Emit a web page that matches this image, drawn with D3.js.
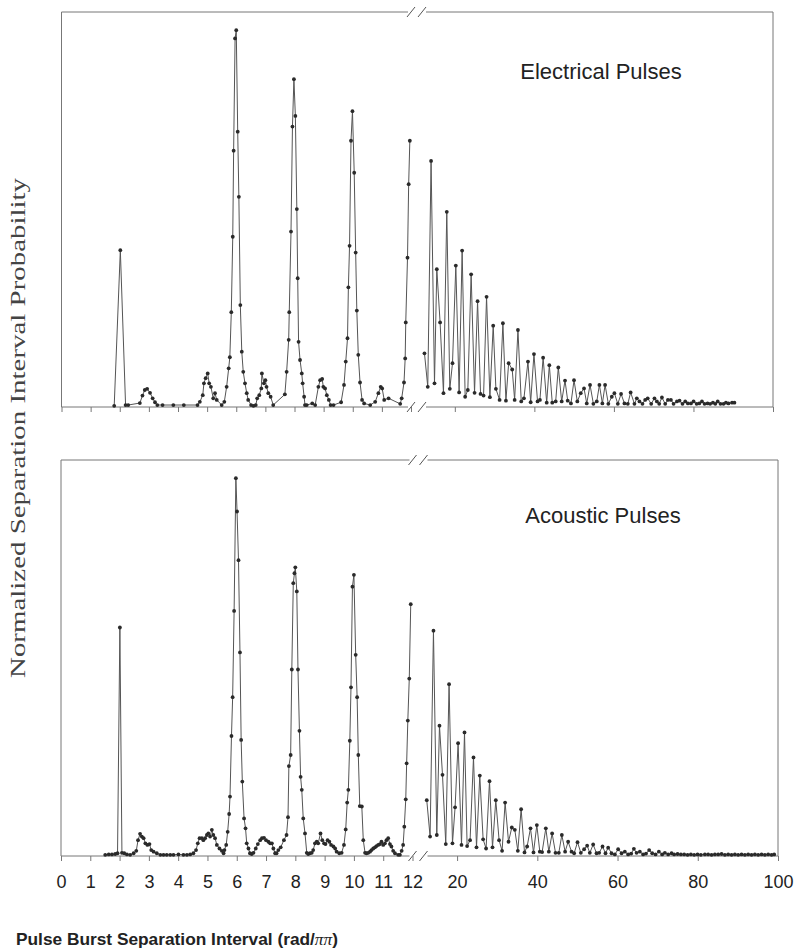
<!DOCTYPE html>
<html><head><meta charset="utf-8">
<script src="https://cdn.jsdelivr.net/npm/d3@7"></script>
<style>body{margin:0;background:#fff}svg{display:block}</style>
</head><body>
<script>
// ---------- DATA ----------
const panelTitles = ["Electrical Pulses", "Acoustic Pulses"];
const leftTicks = [0,1,2,3,4,5,6,7,8,9,10,11,12];
const rightTicks = [20,40,60,80,100];
const leftDomain = [0,12];
const rightDomain = [12,100];
const yDomain = [0,1];

const elecLeft = [[1.81,0.003],[2.02,0.397],[2.20,0.005],[2.29,0.005],[2.69,0.01],[2.78,0.029],[2.86,0.043],[2.94,0.046],[3.04,0.036],[3.13,0.022],[3.21,0.012],[3.29,0.005],[3.47,0.005],[3.84,0.005],[4.20,0.005],[4.67,0.005],[4.75,0.013],[4.85,0.03],[4.89,0.06],[4.95,0.073],[5.02,0.085],[5.07,0.06],[5.13,0.051],[5.21,0.022],[5.27,0.035],[5.33,0.018],[5.50,0.005],[5.59,0.013],[5.67,0.051],[5.74,0.098],[5.78,0.126],[5.83,0.24],[5.88,0.431],[5.91,0.649],[5.96,0.933],[6.00,0.954],[6.05,0.697],[6.09,0.532],[6.14,0.258],[6.19,0.14],[6.24,0.089],[6.30,0.06],[6.36,0.035],[6.41,0.018],[6.51,0.005],[6.59,0.003],[6.67,0.005],[6.72,0.022],[6.79,0.03],[6.86,0.047],[6.88,0.085],[6.95,0.06],[7.00,0.068],[7.04,0.051],[7.10,0.035],[7.18,0.026],[7.27,0.005],[7.67,0.032],[7.73,0.089],[7.80,0.17],[7.82,0.24],[7.88,0.444],[7.93,0.71],[7.98,0.83],[8.03,0.737],[8.08,0.501],[8.11,0.326],[8.14,0.165],[8.19,0.119],[8.25,0.085],[8.28,0.06],[8.33,0.026],[8.36,0.005],[8.42,0.005],[8.61,0.009],[8.71,0.005],[8.82,0.051],[8.88,0.068],[8.95,0.071],[8.99,0.051],[9.05,0.047],[9.11,0.03],[9.18,0.018],[9.24,0.005],[9.34,0.005],[9.60,0.012],[9.70,0.056],[9.76,0.115],[9.82,0.174],[9.85,0.303],[9.89,0.408],[9.94,0.674],[9.99,0.749],[10.05,0.593],[10.10,0.391],[10.14,0.244],[10.19,0.132],[10.25,0.062],[10.32,0.018],[10.39,0.009],[10.60,0.005],[10.77,0.013],[10.88,0.035],[10.96,0.051],[11.01,0.047],[11.08,0.018],[11.23,0.022],[11.63,0.008],[11.68,0.022],[11.76,0.062],[11.80,0.123],[11.82,0.214],[11.88,0.378],[11.92,0.564],[11.96,0.674]];

const elecRight = [[12.37,0.136],[13.2,0.051],[14.03,0.623],[14.89,0.06],[15.47,0.349],[16.3,0.214],[17.15,0.035],[17.98,0.494],[18.74,0.046],[19.42,0.111],[20.25,0.358],[21.08,0.037],[21.84,0.396],[22.6,0.026],[23.27,0.043],[24.1,0.336],[24.96,0.036],[25.72,0.268],[26.47,0.033],[27.23,0.029],[27.98,0.279],[28.82,0.025],[29.65,0.206],[30.33,0.046],[31.26,0.018],[32.09,0.212],[32.85,0.016],[33.53,0.111],[34.43,0.095],[35.04,0.018],[35.87,0.195],[36.7,0.014],[37.38,0.022],[38.39,0.115],[39.07,0.012],[39.9,0.134],[40.8,0.014],[41.4,0.018],[42.2,0.125],[43.1,0.011],[43.76,0.106],[44.5,0.011],[45.36,0.014],[46.02,0.1],[46.87,0.014],[47.71,0.067],[48.38,0.016],[49.2,0.009],[49.97,0.068],[50.8,0.014],[51.66,0.035],[52.49,0.047],[53.17,0.009],[54.0,0.056],[54.84,0.008],[55.69,0.014],[56.35,0.056],[57.1,0.009],[57.78,0.056],[58.6,0.008],[59.47,0.026],[60.12,0.035],[60.98,0.008],[61.8,0.033],[62.65,0.009],[63.5,0.008],[64.2,0.037],[65.16,0.008],[65.76,0.022],[66.42,0.014],[67.18,0.008],[67.86,0.018],[68.5,0.022],[69.37,0.008],[70.2,0.022],[70.8,0.014],[71.39,0.008],[72.07,0.024],[72.9,0.008],[73.58,0.018],[74.33,0.018],[75.0,0.008],[75.84,0.014],[76.5,0.016],[77.25,0.008],[77.93,0.014],[78.6,0.009],[79.37,0.009],[80.03,0.014],[80.8,0.008],[81.46,0.009],[82.14,0.014],[82.8,0.008],[83.55,0.009],[84.2,0.008],[84.9,0.011],[85.5,0.008],[86.1,0.014],[86.8,0.008],[87.55,0.008],[88.16,0.011],[88.8,0.009],[89.7,0.011],[90.3,0.011]];

const acouLeft = [[1.51,0.003],[1.63,0.004],[1.74,0.004],[1.85,0.005],[1.93,0.007],[2.01,0.577],[2.08,0.008],[2.16,0.007],[2.25,0.004],[2.36,0.003],[2.48,0.007],[2.57,0.013],[2.63,0.040],[2.70,0.056],[2.76,0.049],[2.82,0.045],[2.88,0.032],[2.95,0.028],[3.02,0.030],[3.08,0.015],[3.16,0.011],[3.27,0.007],[3.39,0.003],[3.50,0.003],[3.61,0.003],[3.73,0.003],[3.84,0.003],[4.01,0.004],[4.18,0.003],[4.30,0.003],[4.41,0.004],[4.52,0.007],[4.61,0.015],[4.67,0.032],[4.73,0.045],[4.81,0.045],[4.86,0.040],[4.92,0.045],[4.98,0.053],[5.03,0.057],[5.09,0.049],[5.15,0.066],[5.20,0.053],[5.26,0.045],[5.32,0.028],[5.41,0.019],[5.49,0.013],[5.55,0.007],[5.58,0.015],[5.64,0.028],[5.69,0.061],[5.74,0.106],[5.77,0.150],[5.82,0.303],[5.86,0.401],[5.91,0.619],[5.97,0.954],[6.01,0.870],[6.06,0.747],[6.11,0.514],[6.15,0.293],[6.19,0.188],[6.25,0.095],[6.30,0.070],[6.34,0.032],[6.40,0.019],[6.45,0.007],[6.51,0.005],[6.57,0.008],[6.65,0.019],[6.72,0.030],[6.80,0.040],[6.86,0.045],[6.93,0.046],[7.00,0.040],[7.08,0.036],[7.14,0.032],[7.20,0.032],[7.25,0.019],[7.31,0.007],[7.36,0.007],[7.42,0.015],[7.50,0.022],[7.61,0.040],[7.70,0.053],[7.75,0.098],[7.78,0.227],[7.84,0.255],[7.88,0.471],[7.93,0.689],[7.97,0.714],[8.00,0.729],[8.05,0.668],[8.09,0.471],[8.14,0.316],[8.18,0.200],[8.22,0.167],[8.27,0.095],[8.33,0.057],[8.39,0.008],[8.44,0.005],[8.50,0.007],[8.56,0.008],[8.61,0.015],[8.67,0.032],[8.73,0.036],[8.78,0.032],[8.86,0.057],[8.92,0.040],[8.98,0.032],[9.03,0.030],[9.10,0.040],[9.16,0.036],[9.22,0.028],[9.30,0.024],[9.36,0.019],[9.41,0.011],[9.50,0.007],[9.58,0.008],[9.66,0.028],[9.72,0.067],[9.77,0.135],[9.81,0.167],[9.86,0.291],[9.90,0.426],[9.95,0.680],[10.00,0.710],[10.06,0.508],[10.11,0.401],[10.15,0.255],[10.20,0.126],[10.27,0.125],[10.32,0.040],[10.38,0.008],[10.43,0.007],[10.49,0.008],[10.55,0.011],[10.60,0.015],[10.66,0.019],[10.72,0.022],[10.77,0.025],[10.83,0.028],[10.89,0.030],[10.94,0.036],[11.00,0.028],[11.06,0.032],[11.11,0.040],[11.17,0.045],[11.23,0.030],[11.28,0.024],[11.34,0.013],[11.40,0.007],[11.51,0.003],[11.57,0.003],[11.63,0.013],[11.68,0.028],[11.72,0.074],[11.77,0.143],[11.80,0.234],[11.84,0.342],[11.89,0.448],[11.94,0.636]];

const acouRight = [[12.44,0.141],[13.27,0.049],[14.11,0.569],[14.94,0.053],[15.61,0.329],[16.36,0.205],[17.18,0.030],[18.0,0.434],[18.85,0.032],[19.5,0.123],[20.25,0.285],[21.1,0.028],[21.85,0.312],[22.5,0.025],[23.24,0.040],[24.09,0.249],[24.84,0.022],[25.66,0.203],[26.49,0.042],[27.23,0.019],[28.08,0.189],[28.83,0.022],[29.65,0.141],[30.47,0.040],[31.22,0.013],[31.97,0.135],[32.82,0.036],[33.64,0.072],[34.39,0.066],[35.14,0.013],[35.96,0.118],[36.81,0.009],[37.46,0.024],[38.3,0.07],[39.05,0.009],[39.88,0.078],[40.62,0.011],[41.2,0.01],[42.12,0.070],[42.87,0.011],[43.69,0.057],[44.54,0.008],[45.36,0.008],[46.11,0.053],[46.93,0.011],[47.68,0.036],[48.53,0.011],[49.18,0.007],[50.02,0.035],[50.85,0.008],[51.67,0.017],[52.42,0.026],[53.09,0.008],[53.92,0.029],[54.76,0.007],[55.41,0.008],[56.26,0.024],[57.0,0.007],[57.66,0.021],[58.5,0.007],[59.33,0.004],[60.15,0.017],[61.0,0.007],[61.82,0.011],[62.64,0.004],[63.4,0.006],[64.07,0.018],[64.74,0.008],[65.56,0.011],[66.38,0.004],[67.1,0.006],[67.88,0.015],[68.63,0.007],[69.48,0.004],[70.3,0.011],[71.12,0.004],[71.8,0.008],[72.62,0.004],[73.47,0.007],[74.11,0.004],[74.96,0.005],[75.79,0.004],[76.61,0.004],[77.46,0.003],[78.28,0.004],[79.1,0.003],[79.95,0.004],[80.77,0.003],[81.77,0.004],[82.59,0.004],[83.44,0.003],[84.26,0.004],[85.09,0.004],[85.94,0.005],[86.76,0.003],[87.58,0.004],[88.43,0.003],[89.25,0.004],[90.07,0.003],[90.92,0.004],[91.74,0.003],[92.57,0.004],[93.41,0.003],[94.24,0.004],[95.06,0.003],[95.91,0.004],[96.73,0.003],[97.56,0.004],[98.4,0.003],[99.05,0.004]];

// ---------- LAYOUT ----------
const W = 795, H = 948;
const panels = [
  {title: panelTitles[0], left: elecLeft, right: elecRight, top: 12, bottom: 407,
   lRange: [61.5, 411], rRange: [423, 773], titleX: 601, titleY: 79, labels: false},
  {title: panelTitles[1], left: acouLeft, right: acouRight, top: 460, bottom: 856,
   lRange: [61, 412.5], rRange: [425, 778], titleX: 603, titleY: 523, labels: true}
];
const axisColor = "#777";
const lineColor = "#555";
const dotColor = "#2a2a2a";

const svg = d3.select("body").append("svg").attr("width", W).attr("height", H)
  .style("font-family", "'Liberation Sans', Arial, sans-serif");

panels.forEach(p => {
  const xL = d3.scaleLinear().domain(leftDomain).range(p.lRange);
  const xR = d3.scaleLinear().domain(rightDomain).range(p.rRange);
  const y = d3.scaleLinear().domain(yDomain).range([p.bottom, p.top]);
  const g = svg.append("g");
  const brk1 = p.lRange[1], brk2 = p.lRange[1] + 11;

  // frame pieces
  const segs = [
    [p.lRange[0], p.top, p.lRange[0], p.bottom],
    [p.rRange[1], p.top, p.rRange[1], p.bottom],
    [p.lRange[0], p.top, brk1 - 3, p.top],
    [brk2 + 4, p.top, p.rRange[1], p.top],
    [p.lRange[0], p.bottom, brk1 - 3, p.bottom],
    [brk2 + 4, p.bottom, p.rRange[1], p.bottom]
  ];
  g.selectAll("line.frame").data(segs).join("line").attr("class", "frame")
    .attr("x1", d => d[0]).attr("y1", d => d[1]).attr("x2", d => d[2]).attr("y2", d => d[3])
    .attr("stroke", axisColor).attr("stroke-width", 1);

  // break marks
  const slashes = [];
  [p.top, p.bottom].forEach(yy => [brk1, brk2].forEach(xx => slashes.push([xx, yy])));
  g.selectAll("line.brk").data(slashes).join("line").attr("class", "brk")
    .attr("x1", d => d[0] - 4).attr("y1", d => d[1] + 5)
    .attr("x2", d => d[0] + 4).attr("y2", d => d[1] - 5)
    .attr("stroke", "#555").attr("stroke-width", 1);

  // axes (ticks)
  const axL = d3.axisBottom(xL).tickValues(leftTicks).tickSize(5).tickSizeOuter(0).tickPadding(14);
  const axR = d3.axisBottom(xR).tickValues(rightTicks).tickSize(5).tickSizeOuter(0).tickPadding(14);
  if (!p.labels) { axL.tickFormat(""); axR.tickFormat(""); }
  [axL, axR].forEach(ax => {
    const a = g.append("g").attr("transform", `translate(0,${p.bottom})`).call(ax);
    a.select(".domain").remove();
    a.selectAll(".tick line").attr("stroke", axisColor);
    a.selectAll(".tick text").attr("fill", "#222").style("font-size", "18px")
      .style("font-family", "'Liberation Sans', Arial, sans-serif");
  });

  // data lines
  const lineL = d3.line().x(d => xL(d[0])).y(d => y(d[1]));
  const lineR = d3.line().x(d => xR(d[0])).y(d => y(d[1]));
  g.append("path").datum(p.left).attr("d", lineL).attr("fill", "none")
    .attr("stroke", lineColor).attr("stroke-width", 1);
  g.append("path").datum(p.right).attr("d", lineR).attr("fill", "none")
    .attr("stroke", lineColor).attr("stroke-width", 1);
  g.selectAll("circle.l").data(p.left).join("circle").attr("class", "l")
    .attr("cx", d => xL(d[0])).attr("cy", d => y(d[1])).attr("r", 1.9).attr("fill", dotColor);
  g.selectAll("circle.r").data(p.right).join("circle").attr("class", "r")
    .attr("cx", d => xR(d[0])).attr("cy", d => y(d[1])).attr("r", 1.9).attr("fill", dotColor);

  // title
  g.append("text").attr("x", p.titleX).attr("y", p.titleY).attr("text-anchor", "middle")
    .style("font-size", "22px").attr("fill", "#222").text(p.title);
});

// y-axis title
svg.append("text")
  .attr("transform", "translate(25,428) rotate(-90)")
  .attr("text-anchor", "middle")
  .style("font-family", "'Liberation Serif', 'Times New Roman', serif")
  .style("font-size", "20px").attr("fill", "#444")
  .attr("textLength", 500).attr("lengthAdjust", "spacingAndGlyphs")
  .text("Normalized Separation Interval Probability");

// x-axis title
const xt = svg.append("text").attr("x", 16).attr("y", 945)
  .style("font-size", "17px").style("font-weight", "bold").attr("fill", "#222")
  .attr("textLength", 322).attr("lengthAdjust", "spacingAndGlyphs");
xt.append("tspan").text("Pulse Burst Separation Interval (rad/");
xt.append("tspan").style("font-family", "'Liberation Serif', serif").style("font-style", "italic")
  .style("font-weight", "normal").text("ππ");
xt.append("tspan").text(")");
</script>
</body></html>
